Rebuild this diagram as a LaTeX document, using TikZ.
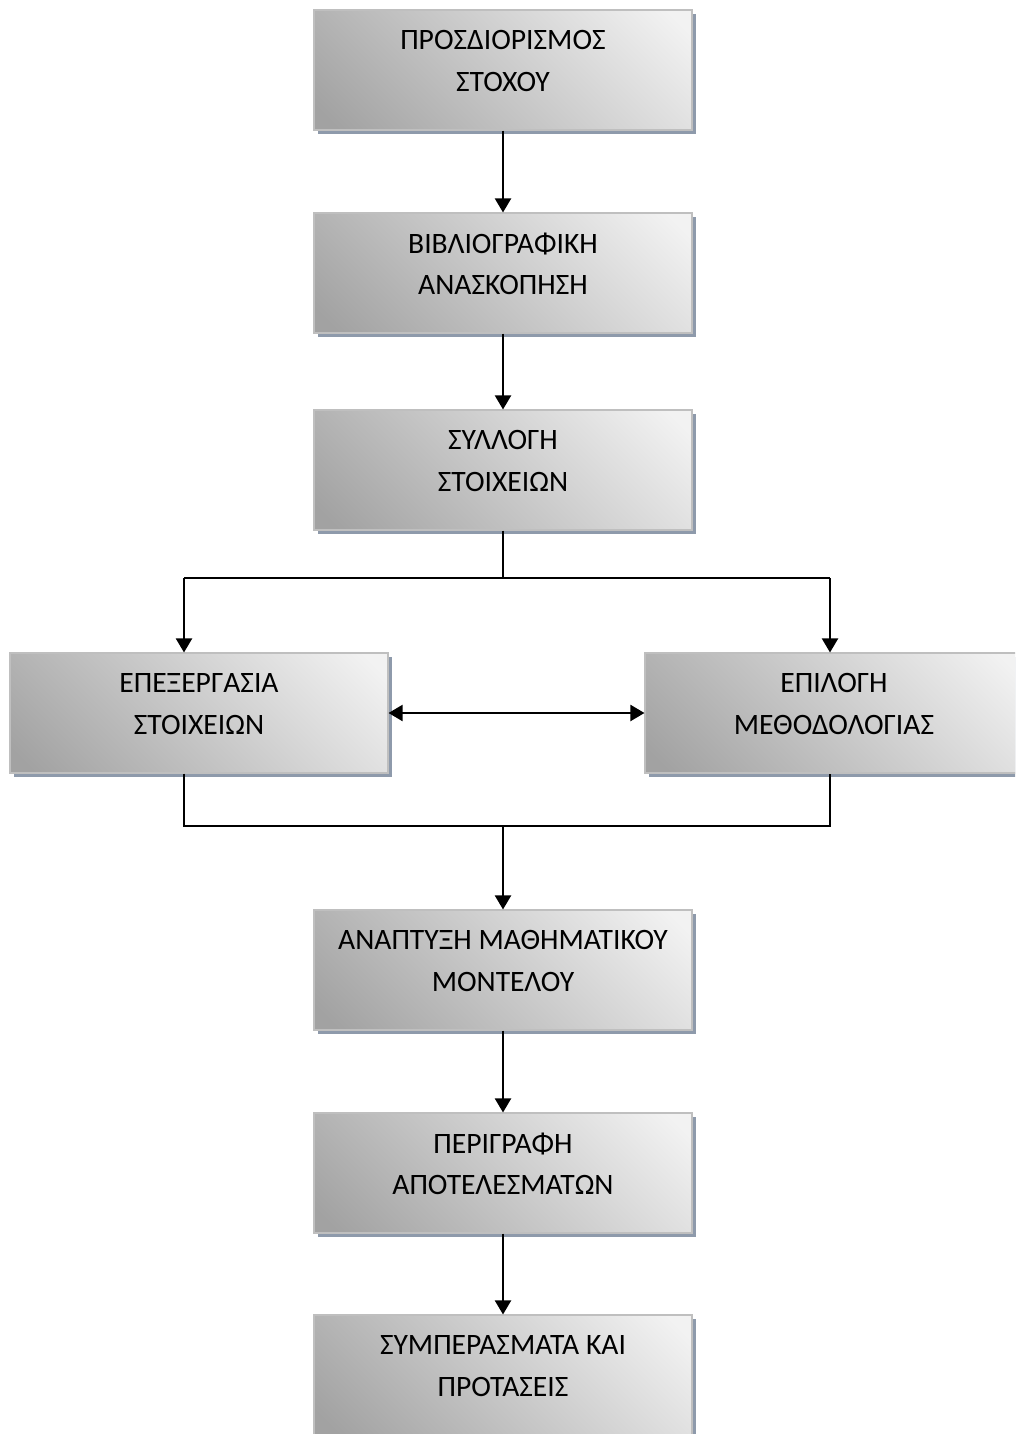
\documentclass[tikz,border=0pt]{standalone}
\usepackage{fontspec}
\setmainfont{Carlito}
\usetikzlibrary{arrows.meta,shadows,calc}
\definecolor{boxborder}{HTML}{BFBFBF}
\definecolor{shadowc}{HTML}{8E9AAB}
\definecolor{shadetop}{HTML}{F2F2F2}
\definecolor{shadebot}{HTML}{A2A2A2}
\pgfdeclareverticalshading{boxshade}{100bp}{color(0bp)=(shadebot); color(18bp)=(shadebot); color(82bp)=(shadetop); color(100bp)=(shadetop)}
\begin{document}
\begin{tikzpicture}[x=0.75pt,y=-0.75pt,
  box/.style={draw=boxborder, line width=0.8pt, minimum width=283.5pt, minimum height=90pt,
    inner sep=0pt, shade, shading=boxshade, shading angle=-45,
    drop shadow={shadow xshift=3pt, shadow yshift=-3pt, fill=shadowc, opacity=1}},
  lbl/.style={align=center, inner sep=0pt, font=\fontsize{22.2}{31}\selectfont},
  conn/.style={line width=1.5pt, black},
  arr/.style={conn, -{Triangle[width=12pt,length=10.5pt]}},
  darr/.style={conn, {Triangle[width=12pt,length=10.5pt]}-{Triangle[width=12pt,length=10.5pt]}}]
\useasboundingbox (0,0) rectangle (1015,1434);
\fill[white] (0,0) rectangle (1015,1434);
\clip (0,0) rectangle (1015,1434);
% boxes
\node[box] (b1) at (503,70) {};
\node[box] (b2) at (503,273) {};
\node[box] (b3) at (503,470) {};
\node[box] (b4) at (199,713) {};
\node[box] (b5) at (834,713) {};
\node[box] (b6) at (503,970) {};
\node[box] (b7) at (503,1173) {};
\node[box] (b8) at (503,1375) {};
% labels
\node[lbl] (t1) at ($(b1.center)+(0,-9)$) {ΠΡΟΣΔΙΟΡΙΣΜΟΣ\\ΣΤΟΧΟΥ};
\node[lbl] (t2) at ($(b2.center)+(0,-9)$) {ΒΙΒΛΙΟΓΡΑΦΙΚΗ\\ΑΝΑΣΚΟΠΗΣΗ};
\node[lbl] (t3) at ($(b3.center)+(0,-9)$) {ΣΥΛΛΟΓΗ\\ΣΤΟΙΧΕΙΩΝ};
\node[lbl] (t4) at ($(b4.center)+(0,-9)$) {ΕΠΕΞΕΡΓΑΣΙΑ\\ΣΤΟΙΧΕΙΩΝ};
\node[lbl] (t5) at ($(b5.center)+(0,-9)$) {ΕΠΙΛΟΓΗ\\ΜΕΘΟΔΟΛΟΓΙΑΣ};
\node[lbl] (t6) at ($(b6.center)+(0,-9)$) {ΑΝΑΠΤΥΞΗ ΜΑΘΗΜΑΤΙΚΟΥ\\ΜΟΝΤΕΛΟΥ};
\node[lbl] (t7) at ($(b7.center)+(0,-9)$) {ΠΕΡΙΓΡΑΦΗ\\ΑΠΟΤΕΛΕΣΜΑΤΩΝ};
\node[lbl] (t8) at ($(b8.center)+(0,-9)$) {ΣΥΜΠΕΡΑΣΜΑΤΑ ΚΑΙ\\ΠΡΟΤΑΣΕΙΣ};
% junction coordinates
\coordinate (split) at (503,578);
\coordinate (sl) at (184,578);
\coordinate (sr) at (830,578);
\coordinate (ml) at (184,826);
\coordinate (mr) at (830,826);
\coordinate (merge) at (503,826);
% connectors
\draw[arr] (b1.south) -- (b2.north);
\draw[arr] (b2.south) -- (b3.north);
\draw[conn] (b3.south) -- (split);
\draw[conn] (sl) -- (sr);
\draw[arr] (sl) -- (sl |- b4.north);
\draw[arr] (sr) -- (sr |- b5.north);
\draw[darr] (b4.east) -- (b5.west);
\draw[conn] (ml |- b4.south) -- (ml) -- (mr) -- (mr |- b5.south);
\draw[arr] (merge) -- (b6.north);
\draw[arr] (b6.south) -- (b7.north);
\draw[arr] (b7.south) -- (b8.north);
\end{tikzpicture}
\end{document}
